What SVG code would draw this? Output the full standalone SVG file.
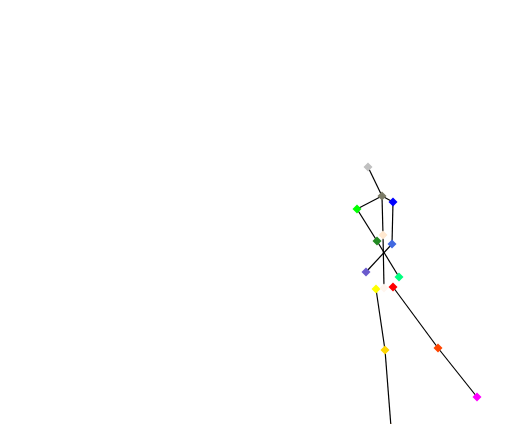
<svg xmlns="http://www.w3.org/2000/svg" width="512" height="424" viewBox="0 0 512 424">
<defs>
<style>
.e{stroke:#000;stroke-width:1.2;fill:none}
</style>
<path id="d" d="M0,-4.5 L4.5,0 L0,4.5 L-4.5,0 Z"/>
</defs>
<rect width="512" height="424" fill="#fff"/>
<g id="connectors" class="e">
<line x1="368" y1="167" x2="382" y2="196"/>
<line x1="382" y1="196" x2="357" y2="209"/>
<line x1="382" y1="196" x2="393" y2="202"/>
<line x1="382" y1="196" x2="383" y2="235"/>
<line x1="383" y1="235" x2="384" y2="288"/>
<line x1="393" y1="202" x2="392" y2="244"/>
<line x1="357" y1="209" x2="377" y2="241"/>
<line x1="377" y1="241" x2="399" y2="277"/>
<line x1="366" y1="272" x2="392" y2="244"/>
<line x1="376" y1="289" x2="385" y2="350"/>
<line x1="385" y1="350" x2="391" y2="427"/>
<line x1="393" y1="287" x2="438" y2="348"/>
<line x1="438" y1="348" x2="477" y2="397"/>
</g>
<g id="n-nose"><use href="#d" x="368" y="167" fill="#c0c0c0"/></g>
<g id="n-neck"><use href="#d" x="382" y="196" fill="#7a7a66"/></g>
<g id="n-rshoulder"><use href="#d" x="393" y="202" fill="#0000ff"/></g>
<g id="n-lshoulder"><use href="#d" x="357" y="209" fill="#00ff00"/></g>
<g id="n-mid"><use href="#d" x="383" y="235" fill="#ffe8d0"/></g>
<g id="n-lelbow"><use href="#d" x="377" y="241" fill="#228b22"/></g>
<g id="n-relbow"><use href="#d" x="392" y="244" fill="#4169e1"/></g>
<g id="n-rwrist"><use href="#d" x="366" y="272" fill="#6a5acd"/></g>
<g id="n-lwrist"><use href="#d" x="399" y="277" fill="#00ff7f"/></g>
<g id="n-lhip"><use href="#d" x="376" y="289" fill="#ffff00"/></g>
<g id="n-midhip"><use href="#d" x="384" y="288" fill="#fff5ee"/></g>
<g id="n-rhip"><use href="#d" x="393" y="287" fill="#ff0000"/></g>
<g id="n-lknee"><use href="#d" x="385" y="350" fill="#ffd700"/></g>
<g id="n-rknee"><use href="#d" x="438" y="348" fill="#ff4500"/></g>
<g id="n-rankle"><use href="#d" x="477" y="397" fill="#ff00ff"/></g>
<g id="n-lankle"><use href="#d" x="391" y="428" fill="#ff8c00"/></g>
</svg>
